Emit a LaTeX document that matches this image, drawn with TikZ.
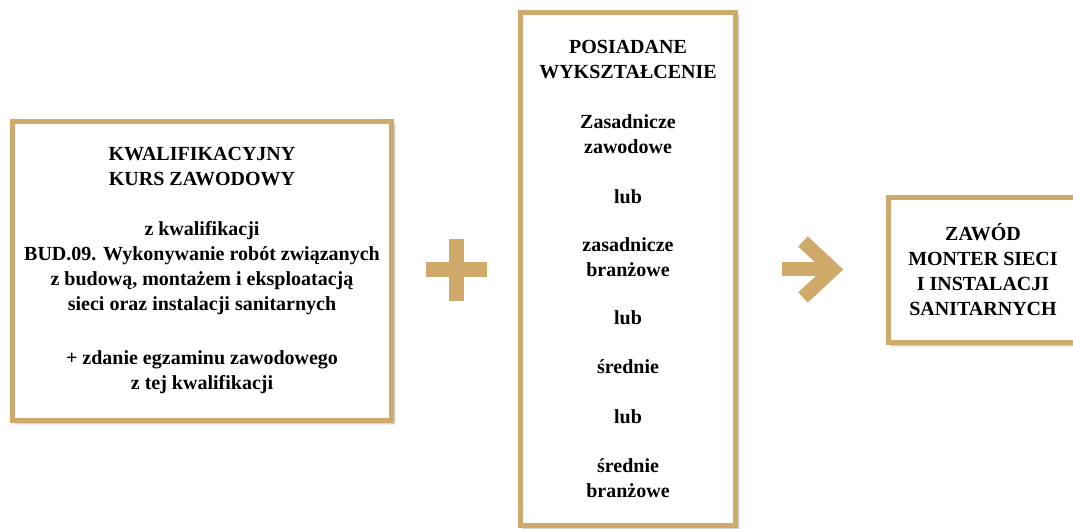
\documentclass[tikz,border=0pt]{standalone}
\usepackage{fontspec}
\setmainfont{LiberationSerif}[Extension=.ttf,UprightFont=*-Regular,BoldFont=*-Bold]
\usetikzlibrary{calc,shadows.blur}
\definecolor{gold}{RGB}{207,170,106}
\tikzstyle{frame}=[draw=gold,line width=5pt,fill=white,align=center,inner sep=0pt,
  font=\fontsize{20}{25}\selectfont\bfseries,
  blur shadow={shadow xshift=3pt,shadow yshift=-3pt,shadow blur steps=6,shadow opacity=30}]
\tikzstyle{sign}=[draw=gold,line width=15pt]

\begin{document}
\begin{tikzpicture}[x=1pt,y=-1pt]
  \useasboundingbox (0,0) rectangle (1073,529);
  \node[frame,minimum width=379pt,minimum height=299pt] (kurs) at (202,271)
    {KWALIFIKACYJNY\\ KURS ZAWODOWY\\[25pt]
     z kwalifikacji\\ BUD.09. Wykonywanie robót związanych\\
     z budową, montażem i eksploatacją\\ sieci oraz instalacji sanitarnych\\[29pt]
     + zdanie egzaminu zawodowego\\ z tej kwalifikacji};
  \node[frame,minimum width=215pt,minimum height=513pt] (wyksz) at (628,269)
    {POSIADANE\\ WYKSZTAŁCENIE\\[25pt]
     Zasadnicze\\ zawodowe\\[25pt] lub\\[23pt]
     zasadnicze\\ branżowe\\[23pt] lub\\[24pt]
     średnie\\[25pt] lub\\[24pt] średnie\\ branżowe};
  \node[frame,minimum width=189pt,minimum height=145pt] (zawod) at (983,270)
    {ZAWÓD\\ MONTER SIECI\\ I INSTALACJI\\ SANITARNYCH};
  % plus between the first two boxes
  \coordinate (plus) at ($(kurs.east)!0.5!(wyksz.west)$);
  \draw[sign] ([xshift=-30.5pt]plus) -- ([xshift=30.5pt]plus);
  \draw[sign] ([yshift=31pt]plus) -- ([yshift=-31pt]plus);
  % arrow to the profession
  \coordinate (arr) at ($(wyksz.east)!0.5!(zawod.west)$);
  \draw[sign,line width=14pt] ([xshift=-30pt]arr) -- ([xshift=14pt]arr);
  \draw[sign,line width=14pt,line join=miter]
    ([xshift=-9pt,yshift=28pt]arr) -- ([xshift=21pt]arr) -- ([xshift=-9pt,yshift=-28pt]arr);
\end{tikzpicture}
\end{document}
